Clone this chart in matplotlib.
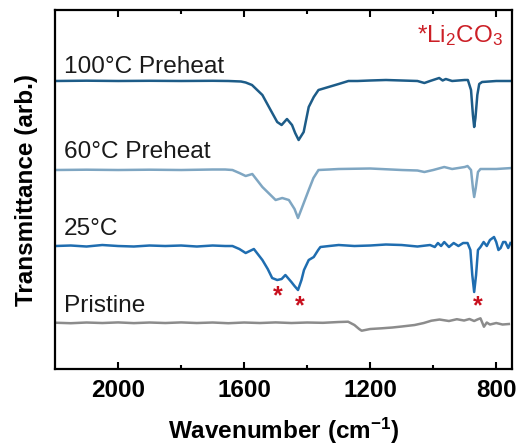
import numpy as np
import matplotlib.pyplot as plt

plt.rcParams['font.family'] = ['Liberation Sans', 'DejaVu Sans']
plt.rcParams['mathtext.default'] = 'regular'

# spectra (wavenumber in cm-1, transmittance in arb. units)
wn_100 = [2200, 2100, 2000, 1900, 1800, 1700, 1650, 1610, 1595, 1575, 1542, 1516,
          1495, 1481, 1464, 1448, 1438, 1427, 1411, 1395, 1379, 1364, 1332, 1300,
          1269, 1240, 1200, 1150, 1100, 1050, 1028, 1010, 981, 970, 960, 940, 900,
          890, 880, 874, 870, 866, 860, 854, 845, 800, 750]
t_100 = [288, 288.3, 288, 288.2, 288, 288.2, 288, 287.5, 286.5, 284, 274, 259,
         247, 244, 250, 244, 236, 229, 237, 262, 272, 279, 282, 285,
         288, 288, 288.5, 289, 288.5, 288, 286, 288, 291, 288.5, 290, 288, 289,
         289, 279, 254, 242, 251, 274, 285, 287, 288, 288]

wn_60 = [2200, 2100, 2000, 1900, 1800, 1700, 1660, 1637, 1615, 1595, 1574, 1542,
         1500, 1479, 1458, 1440, 1429, 1418, 1395, 1380, 1364, 1330, 1300, 1200,
         1100, 1050, 1028, 1000, 965, 940, 900, 891, 880, 874, 870, 865, 858, 850,
         800, 750]
t_60 = [199, 199.3, 199, 199.3, 199, 199.5, 199.5, 199, 196, 193, 195, 182,
        169, 171, 169, 160, 151, 160, 179, 191, 199, 199.5, 200, 200.5,
        199, 198.5, 197, 199, 202, 200, 202, 203, 199, 181, 172, 181, 197, 200,
        200, 201]

wn_25 = [2200, 2150, 2100, 2050, 2000, 1950, 1900, 1850, 1800, 1750, 1700, 1660,
         1637, 1615, 1595, 1569, 1542, 1525, 1511, 1495, 1481, 1469, 1450, 1440,
         1429, 1418, 1410, 1395, 1379, 1365, 1358, 1330, 1300, 1250, 1200,
         1150, 1100, 1050, 1010, 995, 985, 975, 965, 950, 935, 920, 905, 891,
         882, 876, 870, 864, 858, 850, 840, 830, 820, 807, 800, 793, 786, 778,
         771, 762, 755]
t_25 = [123, 123.5, 122.5, 124, 123, 122.5, 123.5, 123, 123.5, 122.5, 123.5, 123,
        123, 120, 116, 120, 109, 100, 91, 89, 90, 94, 87, 83,
        79, 89, 99, 109, 112, 119, 122, 123, 124, 123, 123.5,
        124.5, 124, 122.5, 124, 122, 126, 123, 127, 122, 126, 123, 126, 126,
        119, 94, 77, 94, 119, 122, 127, 123, 129, 132, 127, 119, 121, 127,
        127, 121, 126]

wn_pr = [2200, 2150, 2100, 2050, 2000, 1950, 1900, 1850, 1800, 1750, 1700, 1650,
         1600, 1550, 1500, 1450, 1400, 1350, 1300, 1270, 1250, 1235, 1227, 1200,
         1164, 1130, 1100, 1059, 1030, 1006, 980, 950, 925, 902, 885, 870, 860,
         850, 839, 830, 820, 800, 780, 760]
t_pr = [46.3, 45.8, 46.5, 46, 46.6, 45.9, 46.5, 46, 46.6, 46, 46.5, 45.8,
        46.5, 46, 46.6, 46, 46.5, 46.2, 47, 47.3, 44, 40, 38.3, 40,
        40.7, 41.5, 42.5, 44, 46, 48.3, 49.5, 48, 49.8, 48.5, 50, 48, 49.5,
        50.7, 42.3, 46.5, 44.5, 46, 44.5, 45]

labels = ['100°C Preheat', '60°C Preheat', '25°C', 'Pristine']
label_y = [296, 211, 134, 57]
colors = ['#1d5c88', '#7fa6c2', '#1f6db0', '#8c8c8c']

star_wn = [1494, 1423, 859]
star_y = [73, 63, 63]

fig = plt.figure(figsize=(5.19, 4.46), dpi=100)
ax = fig.add_axes([0.106, 0.1726, 0.8805, 0.805])

series = [(wn_100, t_100), (wn_60, t_60), (wn_25, t_25), (wn_pr, t_pr)]
for (x, y), c in zip(series, colors):
    ax.plot(x, y, color=c, lw=1.8)

for lab, ly in zip(labels, label_y):
    ax.text(2173, ly, lab, fontsize=17.6, va='baseline', ha='left', color='#1a1a1a')

for sx, sy in zip(star_wn, star_y):
    ax.text(sx, sy, '*', fontsize=18, fontweight='bold', color='#c8101e',
            ha='center', va='center')

ax.text(778, 327, '*Li$_2$CO$_3$', fontsize=17.5, color='#cc1f26',
        ha='right', va='baseline')

ax.set_xlim(2200, 750)
ax.set_ylim(0, 359)
ax.set_xticks([2000, 1600, 1200, 800])
ax.set_xticks([1800, 1400, 1000], minor=True)
ax.set_yticks([])
ax.tick_params(axis='x', which='both', direction='in', top=True, width=1.5)
ax.tick_params(axis='x', which='major', length=5, labelsize=17.5, pad=7)
ax.tick_params(axis='x', which='minor', length=3)
for lbl in ax.get_xticklabels():
    lbl.set_fontweight('bold')
for s in ax.spines.values():
    s.set_linewidth(1.6)

ax.set_xlabel('Wavenumber (cm$^{-1}$)', fontsize=17.5, fontweight='bold', labelpad=10)
ax.set_ylabel('Transmittance (arb.)', fontsize=17.5, fontweight='bold', labelpad=12)

fig.savefig('out.png', dpi=100)
